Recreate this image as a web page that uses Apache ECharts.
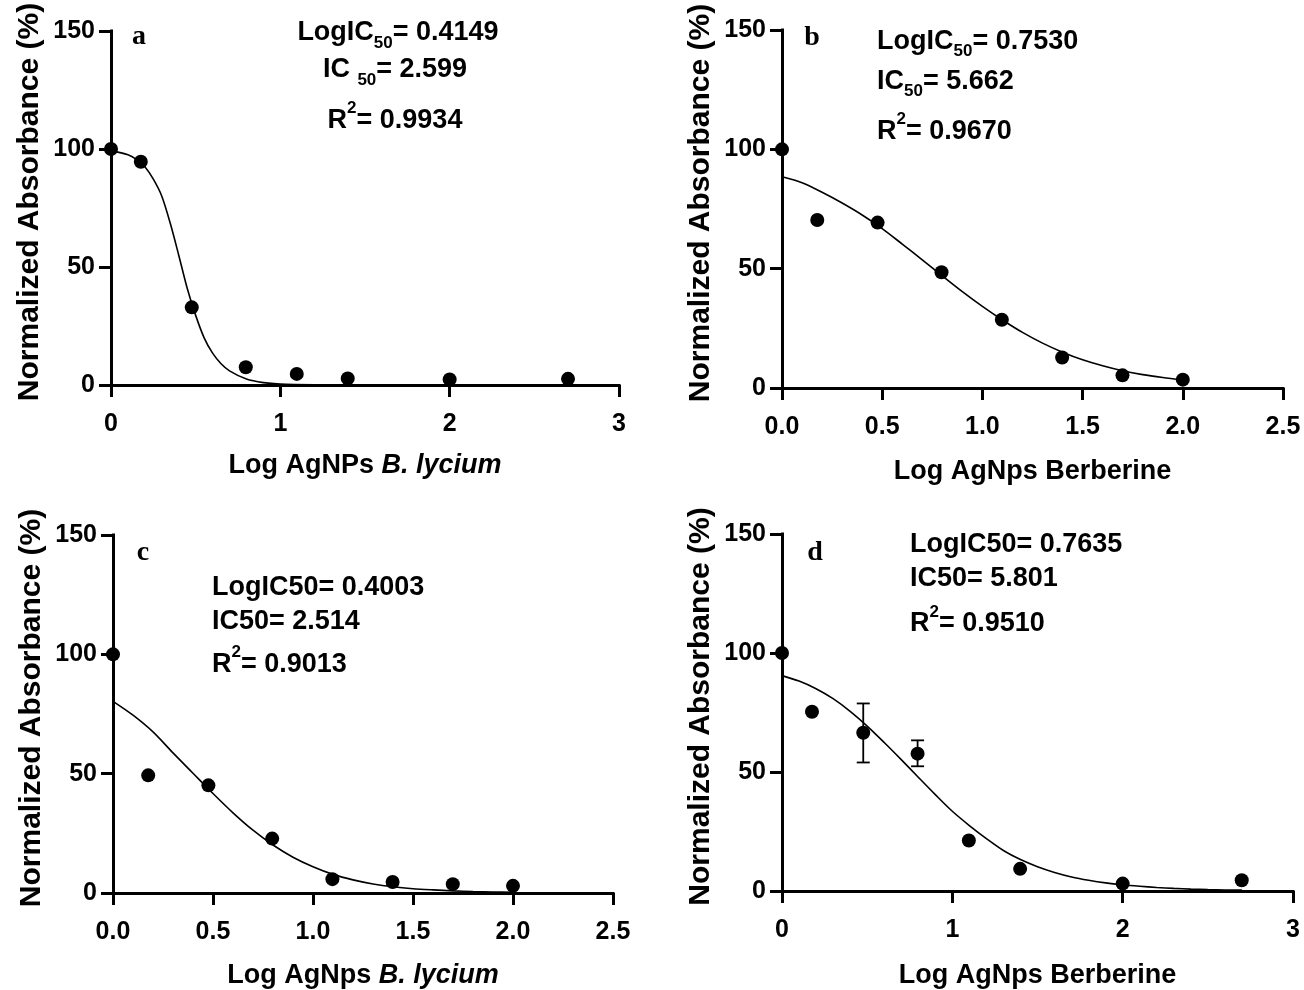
<!DOCTYPE html>
<html><head><meta charset="utf-8">
<script src="https://cdn.jsdelivr.net/npm/echarts@6/dist/echarts.min.js"></script>
<style>html,body{margin:0;padding:0;background:#fff}#c{width:1304px;height:990px}</style>
</head><body><div id="c"></div>
<script>
// ---------- tick labels ----------
const yTicks = ['0', '50', '100', '150'];
const xTicksA = ['0', '1', '2', '3'];
const xTicksB = ['0.0', '0.5', '1.0', '1.5', '2.0', '2.5'];
const xTicksC = ['0.0', '0.5', '1.0', '1.5', '2.0', '2.5'];
const xTicksD = ['0', '1', '2', '3'];

// ---------- panel a : AgNPs B. lycium ----------
const aDoseX = [0, 0.176, 0.477, 0.796, 1.097, 1.398, 2.0, 2.699];
const aResp  = [100, 94.6, 32.9, 7.5, 4.7, 2.8, 2.3, 2.6];
const aFitX  = [0, 0.1, 0.15, 0.2, 0.25, 0.3, 0.35, 0.4, 0.45, 0.5, 0.55, 0.6, 0.65, 0.7, 0.8, 0.9, 1.0, 1.2, 1.5, 2.0, 2.7];
const aFitY  = [99.2, 97.6, 95.6, 92.5, 87.2, 80, 68.5, 55, 41, 29.5, 20, 13.5, 9, 6, 2.5, 1, 0.4, 0.1, 0, 0, 0];

// ---------- panel b : AgNps Berberine ----------
const bDoseX = [0, 0.176, 0.477, 0.796, 1.097, 1.398, 1.699, 2.0];
const bResp  = [100, 70.4, 69.3, 48.5, 28.6, 12.8, 5.3, 3.5];
const bFitX  = [0, 0.1, 0.2, 0.3, 0.4, 0.5, 0.6, 0.7, 0.8, 0.9, 1.0, 1.1, 1.2, 1.3, 1.4, 1.5, 1.6, 1.7, 1.8, 1.9, 2.0];
const bFitY  = [88.5, 86, 82, 77.5, 72.5, 66.8, 60.3, 53.7, 47, 40.4, 34.2, 28.5, 23.3, 18.8, 15, 11.8, 9.3, 7.2, 5.6, 4.4, 3.4];

// ---------- panel c : AgNps B. lycium ----------
const cDoseX = [0, 0.176, 0.477, 0.796, 1.097, 1.398, 1.699, 2.0];
const cResp  = [100, 49.3, 45.1, 22.8, 5.8, 4.6, 3.7, 3.0];
const cFitX  = [0, 0.1, 0.2, 0.3, 0.4, 0.5, 0.6, 0.7, 0.8, 0.9, 1.0, 1.1, 1.2, 1.3, 1.4, 1.5, 1.6, 1.7, 1.8, 1.9, 2.0];
const cFitY  = [80.3, 74.5, 67.5, 58.7, 50.2, 41.7, 33.6, 26.3, 20.1, 15.0, 11.0, 7.8, 5.5, 3.8, 2.6, 1.8, 1.3, 0.9, 0.6, 0.4, 0.3];

// ---------- panel d : AgNps Berberine ----------
const dDoseX = [0, 0.176, 0.477, 0.796, 1.097, 1.398, 2.0, 2.699];
const dResp  = [100, 75.3, 66.5, 57.7, 21.2, 9.3, 3.1, 4.5];
const dErrX    = [0.477, 0.796];
const dErrLow  = [54.0, 52.4];
const dErrHigh = [78.8, 63.3];
const dFitX  = [0, 0.1, 0.2, 0.3, 0.4, 0.5, 0.6, 0.7, 0.8, 0.9, 1.0, 1.1, 1.2, 1.3, 1.4, 1.5, 1.6, 1.7, 1.8, 1.9, 2.0, 2.1, 2.2, 2.3, 2.4, 2.5, 2.6, 2.7];
const dFitY  = [90.5, 88.2, 85, 80.8, 75.5, 69.3, 62.4, 55.2, 47.8, 40.5, 33.5, 27.5, 22, 17, 13.2, 10.2, 7.8, 5.9, 4.5, 3.4, 2.6, 2.0, 1.5, 1.1, 0.8, 0.6, 0.45, 0.35];

// ---------- layout ----------
const FONT = 'Arial, "Liberation Sans", Helvetica, sans-serif';
const SERIF = '"Times New Roman", "Liberation Serif", serif';
const grids = [
  {left: 111, top: 31, width: 508, height: 354},
  {left: 782, top: 30, width: 501, height: 358},
  {left: 113, top: 535, width: 500, height: 359},
  {left: 782, top: 534, width: 511, height: 360}
];
const zip = (xs, ys) => xs.map((x, i) => [x, ys[i]]);

function lineAxisCommon() {
  return {
    axisLine: {show: true, onZero: false, lineStyle: {color: '#000', width: 3, cap: 'square'}},
    axisTick: {show: true, length: 12, lineStyle: {color: '#000', width: 3}},
    splitLine: {show: false},
  };
}
function xAxisCfg(gi, max, interval, labels, name, gap) {
  return Object.assign(lineAxisCommon(), {
    type: 'value', gridIndex: gi, min: 0, max: max, interval: interval,
    axisLabel: {color: '#000', fontFamily: FONT, fontWeight: 'bold', fontSize: 25, margin: 27,
      formatter: v => labels[Math.round(v / interval)]},
    name: name, nameLocation: 'middle', nameGap: gap,
    nameTextStyle: {color: '#000', fontFamily: FONT, fontWeight: 'bold', fontSize: 27,
      rich: {i: {color: '#000', fontFamily: FONT, fontWeight: 'bold', fontStyle: 'italic', fontSize: 27}}}
  });
}
function yAxisCfg(gi) {
  return Object.assign(lineAxisCommon(), {
    type: 'value', gridIndex: gi, min: 0, max: 150, interval: 50,
    axisLabel: {color: '#000', fontFamily: FONT, fontWeight: 'bold', fontSize: 25, margin: 16,
      formatter: v => yTicks[Math.round(v / 50)]},
    name: 'Normalized Absorbance (%)', nameLocation: 'middle', nameGap: 66,
    nameTextStyle: {color: '#000', fontFamily: FONT, fontWeight: 'bold', fontSize: 30, padding: [0, 0, 0, 12]}
  });
}

function fitSeries(gi, xs, ys) {
  return {type: 'line', xAxisIndex: gi, yAxisIndex: gi, data: zip(xs, ys), symbol: 'none',
    smooth: 0.3, lineStyle: {color: '#000', width: 1.6}, silent: true, z: 2, animation: false};
}
function dotSeries(gi, xs, ys) {
  return {type: 'scatter', xAxisIndex: gi, yAxisIndex: gi, data: zip(xs, ys), symbol: 'circle',
    symbolSize: 14, itemStyle: {color: '#000', opacity: 1}, silent: true, z: 3, animation: false};
}

const rich = {
  m: {fontFamily: FONT, fontWeight: 'bold', fontSize: 27, lineHeight: 30, color: '#000'},
  s: {fontFamily: FONT, fontWeight: 'bold', fontSize: 17, lineHeight: 17, padding: [20, 0, 0, 0], color: '#000'},
  p: {fontFamily: FONT, fontWeight: 'bold', fontSize: 17, lineHeight: 17, padding: [0, 0, 24, 0], color: '#000'}
};
// kind: 'plain' | 'sub' | 'sup' ; yc = cap centre
function txt(str, x, yc, kind, align) {
  const off = kind === 'sub' ? 12.5 : (kind === 'sup' ? 12.5 : 12);
  return {type: 'text', x: x, y: yc - off, z: 10, silent: true,
    style: {text: str, rich: rich, align: align, textAlign: align, verticalAlign: 'top', textVerticalAlign: 'top', fill: '#000'}};
}
function panelLabel(ch, x, yc) {
  return {type: 'text', x: x, y: yc, z: 10, silent: true,
    style: {text: ch, font: 'bold 28px ' + SERIF, fill: '#000', align: 'center', textAlign: 'center', verticalAlign: 'middle', textVerticalAlign: 'middle'}};
}

const graphics = [
  panelLabel('a', 139, 37), panelLabel('b', 812, 38), panelLabel('c', 143, 553), panelLabel('d', 815, 553),
  txt('{m|LogIC}{s|50}{m|= 0.4149}', 398, 30.5, 'sub', 'center'),
  txt('{m|IC }{s|50}{m|= 2.599}', 395, 67.5, 'sub', 'center'),
  txt('{m|R}{p|2}{m|= 0.9934}', 395, 118, 'sup', 'center'),
  txt('{m|LogIC}{s|50}{m|= 0.7530}', 877, 39, 'sub', 'left'),
  txt('{m|IC}{s|50}{m|= 5.662}', 877, 79, 'sub', 'left'),
  txt('{m|R}{p|2}{m|= 0.9670}', 877, 129, 'sup', 'left'),
  txt('{m|LogIC50= 0.4003}', 212, 585, 'plain', 'left'),
  txt('{m|IC50= 2.514}', 212, 619, 'plain', 'left'),
  txt('{m|R}{p|2}{m|= 0.9013}', 212, 662, 'sup', 'left'),
  txt('{m|LogIC50= 0.7635}', 910, 542, 'plain', 'left'),
  txt('{m|IC50= 5.801}', 910, 576, 'plain', 'left'),
  txt('{m|R}{p|2}{m|= 0.9510}', 910, 621.5, 'sup', 'left')
];

const errSeries = {
  type: 'custom', xAxisIndex: 3, yAxisIndex: 3, z: 4, silent: true, animation: false,
  data: dErrX.map((x, i) => [x, dErrLow[i], dErrHigh[i]]),
  encode: {x: 0, y: [1, 2]},
  renderItem: function (params, api) {
    const x = api.value(0);
    const pLo = api.coord([x, api.value(1)]);
    const pHi = api.coord([x, api.value(2)]);
    const w = 6.5, st = {stroke: '#000', lineWidth: 1.8};
    return {type: 'group', children: [
      {type: 'line', shape: {x1: pHi[0], y1: pHi[1], x2: pLo[0], y2: pLo[1]}, style: st},
      {type: 'line', shape: {x1: pHi[0] - w, y1: pHi[1], x2: pHi[0] + w, y2: pHi[1]}, style: st},
      {type: 'line', shape: {x1: pLo[0] - w, y1: pLo[1], x2: pLo[0] + w, y2: pLo[1]}, style: st}
    ]};
  }
};

const chart = echarts.init(document.getElementById('c'), null, {renderer: 'canvas'});
chart.setOption({
  backgroundColor: '#fff',
  animation: false,
  grid: grids,
  xAxis: [
    xAxisCfg(0, 3, 1, xTicksA, 'Log AgNPs {i|B. lycium}', 67),
    xAxisCfg(1, 2.5, 0.5, xTicksB, 'Log AgNps Berberine', 70),
    xAxisCfg(2, 2.5, 0.5, xTicksC, 'Log AgNps {i|B. lycium}', 69),
    xAxisCfg(3, 3, 1, xTicksD, 'Log AgNps Berberine', 71)
  ],
  yAxis: [yAxisCfg(0), yAxisCfg(1), yAxisCfg(2), yAxisCfg(3)],
  graphic: graphics,
  series: [
    fitSeries(0, aFitX, aFitY), dotSeries(0, aDoseX, aResp),
    fitSeries(1, bFitX, bFitY), dotSeries(1, bDoseX, bResp),
    fitSeries(2, cFitX, cFitY), dotSeries(2, cDoseX, cResp),
    fitSeries(3, dFitX, dFitY), errSeries, dotSeries(3, dDoseX, dResp)
  ]
});
</script></body></html>
